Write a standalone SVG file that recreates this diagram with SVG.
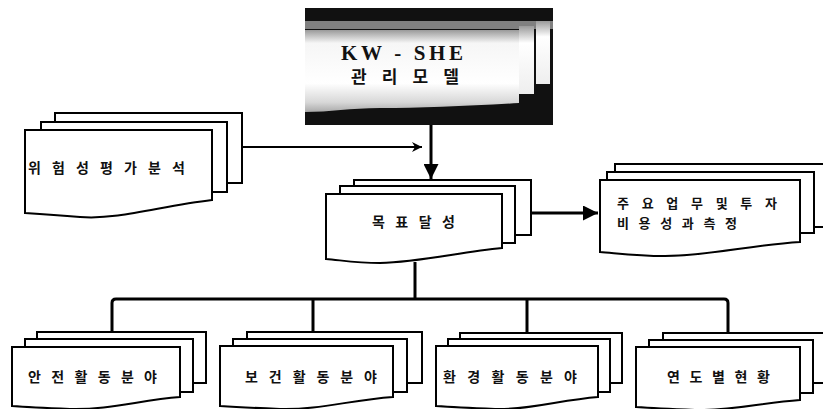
<svg xmlns="http://www.w3.org/2000/svg" width="823" height="409" viewBox="0 0 823 409">
<style>
.pg{fill:#fff;stroke:#000;stroke-width:2}
.lbl{font-family:"Noto Sans CJK KR","Noto Sans",sans-serif;font-weight:bold;font-size:14px;fill:#111}
.sm{font-size:13px}
.con{fill:none;stroke:#000;stroke-width:3;stroke-linejoin:round}
.thin{fill:none;stroke:#000;stroke-width:2}
</style>
<defs>
<linearGradient id="fg" x1="0" y1="0" x2="0" y2="1">
<stop offset="0" stop-color="#9a9a9a"/>
<stop offset="0.16" stop-color="#f6f6f6"/>
<stop offset="0.65" stop-color="#ffffff"/>
<stop offset="0.88" stop-color="#d8d8d8"/>
<stop offset="1" stop-color="#aaaaaa"/>
</linearGradient>
<linearGradient id="sg" x1="0" y1="0" x2="0" y2="1">
<stop offset="0" stop-color="#9a9a9a"/>
<stop offset="0.25" stop-color="#fff"/>
<stop offset="1" stop-color="#eee"/>
</linearGradient>
<marker id="ah" viewBox="0 0 10 10" refX="10" refY="5" markerWidth="10" markerHeight="10" markerUnits="userSpaceOnUse" orient="auto">
<path d="M0,0 L10,5 L0,10 L3,5 Z" fill="#000"/>
</marker>
<marker id="ahd" viewBox="0 0 10 10" refX="10" refY="5" markerWidth="5" markerHeight="5" orient="auto">
<path d="M0,0 L10,5 L0,10 Z" fill="#000"/>
</marker>
</defs>

<g id="node-kwshe">
<rect x="305" y="8" width="248" height="117" fill="#111"/>
<rect x="305" y="21" width="248" height="8" fill="#808080"/>
<rect x="536" y="21" width="14" height="63" fill="url(#sg)"/>
<rect x="519" y="26" width="15" height="68" fill="url(#sg)"/>
<path d="M305,30 H519 V103 C470,106 420,108 380,108 C350,108 330,112 305,112 Z" fill="url(#fg)"/>
<text x="341" y="60" textLength="122" lengthAdjust="spacing" style="font-family:'Liberation Serif',serif;font-weight:bold;font-size:21px;fill:#111">KW - SHE</text>
<text x="351" y="83" textLength="108" lengthAdjust="spacing" style="font-family:'Noto Sans CJK KR',sans-serif;font-weight:bold;font-size:17px;fill:#111">관 리 모 델</text>
</g>

<g id="node-risk">
<rect class="pg" x="55" y="113" width="187" height="70"/>
<rect class="pg" x="41" y="122" width="186" height="70"/>
<path class="pg" d="M25,130 H212 V200 C160,206 120,220 80,217 C55,215 40,214 25,213 Z"/>
<text class="lbl" x="28" y="173" textLength="157" lengthAdjust="spacing">위 험 성 평 가 분 석</text>
</g>

<g id="node-goal">
<rect class="pg" x="354" y="180" width="177" height="55"/>
<rect class="pg" x="340" y="186" width="175" height="57"/>
<path class="pg" d="M326,194 H502 V248 C460,252 420,262 380,263 C355,263 340,260 326,259 Z"/>
<text class="lbl" x="372" y="227" textLength="83" lengthAdjust="spacing">목 표 달 성</text>
</g>

<g id="node-invest">
<rect class="pg" x="615" y="164" width="225" height="63"/>
<rect class="pg" x="607" y="172" width="207" height="61"/>
<path class="pg" d="M600,180 H800 V242 C750,245 710,256 665,256 C635,256 615,253 600,252 Z"/>
<text class="lbl sm" x="617" y="208" textLength="160" lengthAdjust="spacing">주 요 업 무 및 투 자</text>
<text class="lbl sm" x="617" y="228" textLength="120" lengthAdjust="spacing">비 용 성 과 측 정</text>
</g>

<g id="node-safety">
<rect class="pg" x="37" y="332" width="169" height="51"/>
<rect class="pg" x="25" y="339" width="168" height="53"/>
<path class="pg" d="M12,347 H180 V397 C140,400 110,410 70,409 C45,408 25,407 12,406 Z"/>
<text class="lbl" x="28" y="382" textLength="129" lengthAdjust="spacing">안 전 활 동 분 야</text>
</g>

<g id="node-health">
<rect class="pg" x="247" y="332" width="175" height="51"/>
<rect class="pg" x="233" y="339" width="174" height="53"/>
<path class="pg" d="M220,346 H393 V397 C350,400 320,410 280,409 C255,408 235,407 220,406 Z"/>
<text class="lbl" x="245" y="382" textLength="132" lengthAdjust="spacing">보 건 활 동 분 야</text>
</g>

<g id="node-env">
<rect class="pg" x="460" y="333" width="162" height="50"/>
<rect class="pg" x="448" y="339" width="162" height="53"/>
<path class="pg" d="M436,346 H598 V397 C560,400 530,410 495,409 C470,408 450,407 436,406 Z"/>
<text class="lbl" x="443" y="382" textLength="134" lengthAdjust="spacing">환 경 활 동 분 야</text>
</g>

<g id="node-year">
<rect class="pg" x="663" y="333" width="180" height="50"/>
<rect class="pg" x="649" y="340" width="164" height="53"/>
<path class="pg" d="M636,347 H800 V400 C760,403 730,411 695,410 C670,409 650,408 636,407 Z"/>
<text class="lbl" x="667" y="382" textLength="103" lengthAdjust="spacing">연 도 별 현 황</text>
</g>

<g id="connectors">
<line class="con" x1="431" y1="125" x2="431" y2="179" marker-end="url(#ahd)"/>
<line class="thin" x1="243" y1="147" x2="422" y2="147" marker-end="url(#ah)"/>
<line class="con" x1="531" y1="213" x2="598" y2="213" marker-end="url(#ahd)"/>
<line class="con" x1="415" y1="262" x2="415" y2="299"/>
<path class="con" d="M112,332 V303 Q112,299 116,299 H724 Q728,299 728,303 V332"/>
<line class="con" x1="313" y1="299" x2="313" y2="332"/>
<line class="con" x1="527" y1="299" x2="527" y2="332"/>
</g>
</svg>
